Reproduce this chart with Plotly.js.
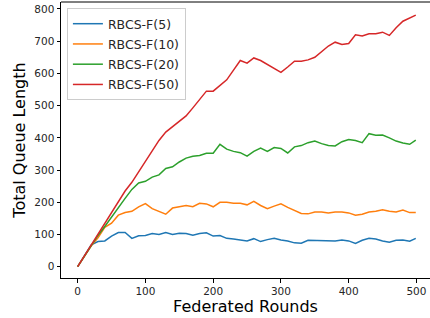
<!DOCTYPE html>
<html>
<head>
<meta charset="utf-8">
<script src="https://cdn.plot.ly/plotly-3.0.1.min.js"></script>
<style>html,body{margin:0;padding:0;background:#fff}#chart{width:430px;height:318px}</style>
</head>
<body>
<div id="chart"></div>
<script>
const rounds = [0,10,20,30,40,50,60,70,80,90,100,110,120,130,140,150,160,170,180,190,200,210,220,230,240,250,260,270,280,290,300,310,320,330,340,350,360,370,380,390,400,410,420,430,440,450,460,470,480,490,499];
const f5  = [0,35,68,78,80,95,106,106,88,96,97,103,100,106,100,104,103,98,103,105,95,97,88,86,82,80,87,78,84,88,83,80,74,73,82,82,80,81,80,83,80,72,82,88,86,80,76,82,83,79,88];
const f10 = [0,33,65,90,122,135,160,168,172,186,196,180,172,163,182,185,190,186,197,195,186,200,200,197,197,192,203,190,180,188,195,184,175,165,164,170,170,167,170,170,167,160,163,170,172,177,172,170,176,168,168];
const f20 = [0,32,66,97,125,155,183,212,240,260,265,278,285,305,310,325,337,343,345,352,352,380,365,358,354,343,358,368,358,370,367,353,372,376,385,390,382,376,375,388,395,392,385,413,408,409,400,390,384,380,393];
const f50 = [0,33,68,100,135,168,200,235,262,295,325,358,392,418,435,452,468,493,520,545,545,562,580,610,640,632,648,640,628,615,603,620,638,638,642,650,667,685,697,690,693,720,716,723,723,728,718,742,762,772,781];
const seriesNames = ["RBCS-F(5)","RBCS-F(10)","RBCS-F(20)","RBCS-F(50)"];
const seriesData = [f5,f10,f20,f50];
const colors = ["#1f77b4","#ff7f0e","#2ca02c","#d62728"];
const xTicks = [0,100,200,300,400,500];
const yTicks = [0,100,200,300,400,500,600,700,800];

const traces = seriesData.map((d,i)=>({
  x: rounds, y: d, type:'scatter', mode:'lines', name: seriesNames[i], legendgroup:'g'+i,
  line:{color:colors[i], width:1.5}
}));

const font = {family:'DejaVu Sans', size:10.5, color:'#262626'};
const layout = {
  width:430, height:318,
  margin:{l:61, r:0, t:2, b:40},
  paper_bgcolor:'#fff', plot_bgcolor:'#fff',
  font: font,
  showlegend:true,
  legend:{x:0.016, y:0.978, xanchor:'left', yanchor:'top', bgcolor:'rgba(255,255,255,0.8)', bordercolor:'#cccccc', borderwidth:1, font:{family:'DejaVu Sans', size:12.5, color:'#262626'}, tracegroupgap:1},
  xaxis:{range:[-24.6,520], tickvals:xTicks, ticktext:xTicks.map(String), showgrid:false, zeroline:false, showline:true, linecolor:'#000', linewidth:1, ticks:'outside', ticklen:3.5, tickcolor:'#000', tickfont:font, automargin:false,
    title:{text:'Federated Rounds', font:{family:'DejaVu Sans', size:16, color:'#000'}, standoff:4}},
  yaxis:{range:[-35.1,821.7], tickvals:yTicks, ticktext:yTicks.map(String), showgrid:false, zeroline:false, showline:true, linecolor:'#000', linewidth:1, ticks:'outside', ticklen:3.5, tickcolor:'#000', tickfont:font, automargin:false,
    title:{text:'Total Queue Length', font:{family:'DejaVu Sans', size:16, color:'#000'}, standoff:4}},
  shapes:[{type:'line', xref:'paper', yref:'paper', x0:0, x1:1, y0:1, y1:1, line:{color:'#000', width:1}}]
};
Plotly.newPlot('chart', traces, layout, {staticPlot:true, displayModeBar:false});
</script>
</body>
</html>
